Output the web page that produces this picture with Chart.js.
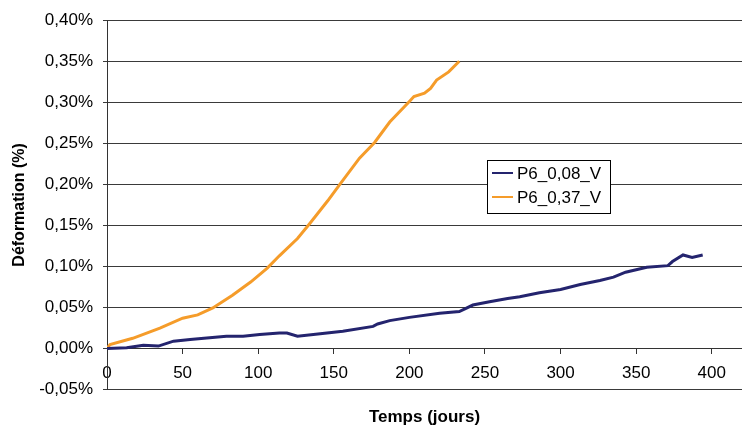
<!DOCTYPE html>
<html>
<head>
<meta charset="utf-8">
<script src="https://cdn.jsdelivr.net/npm/chart.js@4.4.1/dist/chart.umd.min.js"></script>
<style>
  html, body { margin: 0; padding: 0; background: #fff; }
  #wrap { width: 742px; height: 434px; position: relative; }
</style>
</head>
<body>
<div id="wrap"><canvas id="deformChart"></canvas></div>
<script>
// Déformation vs temps - two series

const yTicks = [-0.05, 0, 0.05, 0.10, 0.15, 0.20, 0.25, 0.30, 0.35, 0.40];
const xTicks = [0, 50, 100, 150, 200, 250, 300, 350, 400];

const seriesLabels = ['P6_0,08_V', 'P6_0,37_V'];

// P6_0,08_V (navy)
const daysA = [0, 13, 24, 34, 44, 55, 66, 79, 90, 101, 114, 119, 126, 141, 156, 176, 179, 187,
               200, 220, 233, 242, 253, 265, 273, 286, 300, 313, 326, 335, 343, 357, 371, 374,
               381, 387, 394];
const valsA = [0.000, 0.001, 0.004, 0.003, 0.009, 0.011, 0.013, 0.015, 0.015, 0.017, 0.019, 0.019,
               0.015, 0.018, 0.021, 0.027, 0.030, 0.034, 0.038, 0.043, 0.045, 0.053, 0.057, 0.061,
               0.063, 0.068, 0.072, 0.078, 0.083, 0.087, 0.093, 0.099, 0.101, 0.106, 0.114, 0.111,
               0.114];

// P6_0,37_V (orange)
const daysB = [0, 2, 17, 35, 50, 60, 70, 83, 95, 106, 114, 126, 134, 146, 154, 167, 177, 187,
               200, 203, 210, 214, 218, 226, 233];
const valsB = [0.000, 0.005, 0.0125, 0.025, 0.037, 0.041, 0.0495, 0.065, 0.081, 0.098, 0.113,
               0.134, 0.152, 0.180, 0.200, 0.232, 0.251, 0.276, 0.301, 0.307, 0.311, 0.317,
               0.327, 0.337, 0.350];

const colors = ['#24246e', '#f59c2a'];
const FONT = '"Liberation Sans", Arial, sans-serif';

function toPoints(days, vals) {
  return days.map((d, i) => ({ x: d, y: vals[i] }));
}

function fmtPct(v) {
  return v.toFixed(2).replace('.', ',') + '%';
}

// legend box drawn inside the plot, Excel style
const boxLegend = {
  id: 'boxLegend',
  afterDraw(chart) {
    const ctx = chart.ctx;
    const x = 487, y = 160, w = 123, h = 53;
    ctx.save();
    ctx.fillStyle = '#fff';
    ctx.fillRect(x, y, w, h);
    ctx.strokeStyle = '#000';
    ctx.lineWidth = 1;
    ctx.strokeRect(x + 0.5, y + 0.5, w, h);
    ctx.font = '17px ' + FONT;
    ctx.textBaseline = 'middle';
    chart.data.datasets.forEach((ds, i) => {
      const ly = y + 13 + i * 24;
      ctx.strokeStyle = ds.borderColor;
      ctx.lineWidth = 2;
      ctx.beginPath();
      ctx.moveTo(x + 5, ly);
      ctx.lineTo(x + 26, ly);
      ctx.stroke();
      ctx.fillStyle = '#000';
      ctx.fillText(ds.label, x + 30, ly + 1);
    });
    ctx.restore();
  }
};

const ctx = document.getElementById('deformChart').getContext('2d');

new Chart(ctx, {
  type: 'line',
  data: {
    datasets: [
      {
        label: seriesLabels[0],
        data: toPoints(daysA, valsA),
        borderColor: colors[0],
        borderWidth: 3,
        pointRadius: 0,
        tension: 0
      },
      {
        label: seriesLabels[1],
        data: toPoints(daysB, valsB),
        borderColor: colors[1],
        borderWidth: 3,
        pointRadius: 0,
        tension: 0
      }
    ]
  },
  options: {
    responsive: true,
    maintainAspectRatio: false,
    animation: false,
    layout: {
      padding: { top: 16, right: 0, bottom: 0, left: 0 }
    },
    plugins: {
      legend: { display: false },
      tooltip: { enabled: false }
    },
    scales: {
      x: {
        type: 'linear',
        position: { y: 0 },
        min: 0,
        max: 420,
        afterBuildTicks: (scale) => {
          scale.ticks = xTicks.map(v => ({ value: v }));
        },
        ticks: {
          color: '#000',
          font: { family: FONT, size: 17 },
          padding: 10,
          maxRotation: 0,
          callback: (v) => String(v)
        },
        grid: {
          drawOnChartArea: false,
          tickLength: 5,
          color: '#333'
        },
        border: { display: true, color: '#333' }
      },
      xTitle: {
        type: 'linear',
        position: 'bottom',
        ticks: { display: false },
        grid: { display: false, drawTicks: false },
        border: { display: false },
        title: {
          display: true,
          text: 'Temps (jours)',
          color: '#000',
          font: { family: FONT, size: 17, weight: 'bold' },
          padding: { top: 18, bottom: 6 }
        }
      },
      y: {
        min: -0.05,
        max: 0.40,
        afterBuildTicks: (scale) => {
          scale.ticks = yTicks.map(v => ({ value: v }));
        },
        afterFit: (scale) => {
          scale.width = 107;
        },
        ticks: {
          color: '#000',
          font: { family: FONT, size: 17 },
          padding: 10,
          callback: (v) => fmtPct(v)
        },
        grid: {
          color: '#3a3a3a',
          tickLength: 4
        },
        border: { display: true, color: '#333' },
        title: {
          display: true,
          text: 'Déformation (%)',
          color: '#000',
          font: { family: FONT, size: 16, weight: 'bold' },
          padding: { top: 10, bottom: 0 }
        }
      }
    }
  },
  plugins: [boxLegend]
});
</script>
</body>
</html>
